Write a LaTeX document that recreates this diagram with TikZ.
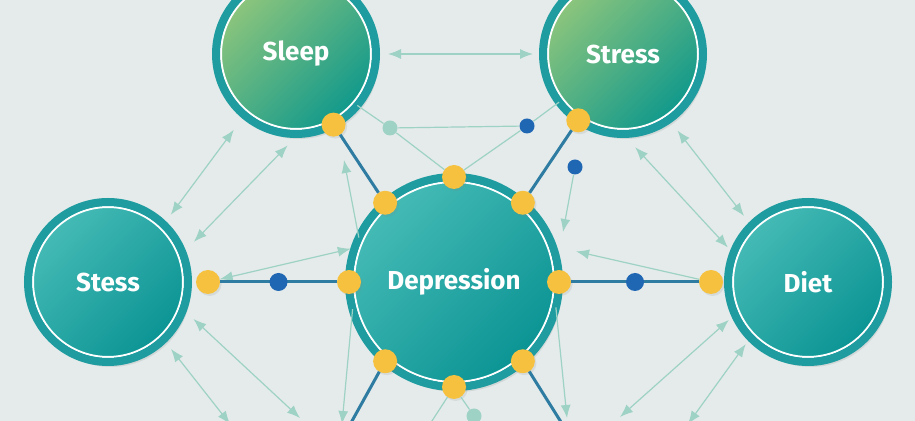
\documentclass[tikz,border=0pt]{standalone}
\usepackage{fontspec}
\setmainfont{Fira Sans}
\usetikzlibrary{arrows.meta,shadows,positioning}
\definecolor{bgc}{HTML}{E5EBEB}
\definecolor{ringc}{HTML}{1E9CA0}
\definecolor{tealhi}{HTML}{46BBB6}
\definecolor{tealdk}{HTML}{0A9393}
\definecolor{greenhi}{HTML}{8FC67C}
\definecolor{greendk}{HTML}{0E988C}
\definecolor{doty}{HTML}{F5C13E}
\definecolor{linkb}{HTML}{2E7CA2}
\definecolor{dotb}{HTML}{1F66B3}
\definecolor{palec}{HTML}{9DD2C4}
\begin{document}
\begin{tikzpicture}[x=0.5pt,y=-0.5pt,>={Latex[length=6.5pt,width=5pt]},
topic/.style={circle,draw=ringc,line width=4pt,minimum size=#1,inner sep=0pt,outer sep=0pt,
 text=white,font=\bfseries\fontsize{13}{15}\selectfont,
 drop shadow={shadow xshift=1.5pt,shadow yshift=-2.5pt,opacity=0.18},
 path picture={\draw[white,line width=1pt] (path picture bounding box.center) circle [radius={#1/2-2.5pt}];}},
tealtopic/.style={topic=#1,top color=tealhi,bottom color=tealdk,shading angle=45},
greentopic/.style={topic=#1,top color=greenhi,bottom color=greendk,shading angle=45},
ydot/.style={circle,fill=doty,minimum size=12pt,inner sep=0pt,outer sep=0pt,
 drop shadow={shadow xshift=0.8pt,shadow yshift=-1pt,opacity=0.15}},
bdot/.style={circle,fill=dotb,minimum size=#1,inner sep=0pt},
bdot/.default=9pt,
tdot/.style={circle,fill=palec,minimum size=7.5pt,inner sep=0pt},
link/.style={draw=linkb,line width=1.5pt},
pale/.style={draw=palec,line width=0.6pt}]
\useasboundingbox (0,0) rectangle (915,421);
\clip (0,0) rectangle (915,421);
\fill[bgc] (0,0) rectangle (915,421);

\node[greentopic=80pt] (sl) at (296,54) {Sleep};
\node[greentopic=80pt] (st) at (623,54) {Stress};
\node[tealtopic=80pt] (ss) at (108,282) {Stess};
\node[tealtopic=80pt] (di) at (808,282) {Diet};
\node[tealtopic=105pt] (dep) at (454,282) {Depression};

\node[ydot] (dt) at (dep.90) {};
\node[ydot] (dul) at (dep.131) {};
\node[ydot] (dur) at (dep.49) {};
\node[ydot] (dl) at (dep.180) {};
\node[ydot] (dr) at (dep.0) {};
\node[ydot] (dll) at (dep.-131) {};
\node[ydot] (dlr) at (dep.-49) {};
\node[ydot] (db) at (dep.-90) {};
\node[ydot] (sld) at (sl.-62) {};
\node[ydot] (std) at (st.-124) {};
\node[ydot,right=4pt of ss] (ssd) {};
\node[ydot,left=2.5pt of di] (did) {};

\node[tdot] (td) at (390,128) {};
\node[tdot] (tb) at (474,416) {};
\node[bdot=7.5pt] (bd1) at (527,126) {};
\node[bdot=7.5pt] (bd2) at (575,167) {};

\coordinate (b1) at (300,418);
\coordinate (b2) at (230,424);
\coordinate (b3) at (344,160);
\coordinate (b4) at (342,424);
\coordinate (b5) at (563,232);
\coordinate (b6) at (567,418);
\coordinate (b7) at (620,417);
\coordinate (b8) at (688,424);
\coordinate (b9) at (430,424);
\coordinate (ex1) at (347,430);
\coordinate (ex2) at (566,430);

\draw[pale,<->,shorten <=6pt,shorten >=5pt] (sl) -- (st);
\draw[pale,<->,shorten <=6pt,shorten >=9pt] (ss.46) -- (sl.-130);
\draw[pale,<->,shorten <=8pt,shorten >=8pt] (ss.21) -- (sl.-88);
\draw[pale,<->,shorten >=2pt] (ssd) -- (dep.161);
\draw[pale,<->,shorten <=7pt] (ss.-20) -- (b1);
\draw[pale,<->,shorten <=6pt] (ss.-46) -- (b2);
\draw[pale,->] (dep.155) -- (b3);
\draw[pale,->] (dep.195) -- (b4);
\draw[pale] (sl.-40) -- (td) -- (dt);
\draw[pale] (td) -- (bd1);
\draw[pale] (dt) -- (bd1) -- (st.-143);
\draw[pale,->] (bd2) -- (b5);
\draw[pale,->] (dep.-14) -- (b6);
\draw[pale,<-,shorten <=12pt] (dep.20) -- (did);
\draw[pale,<->,shorten <=9pt,shorten >=4pt] (st.-90) -- (di.159);
\draw[pale,<->,shorten <=7pt,shorten >=6pt] (st.-55) -- (di.135);
\draw[pale,<->,shorten <=4pt] (di.-156) -- (b7);
\draw[pale,<->,shorten <=4pt] (di.-136) -- (b8);
\draw[pale] (db) -- (b9);
\draw[pale] (db) -- (tb);

\draw[link] (sld) -- (dul);
\draw[link] (std) -- (dur);
\draw[link] (ssd) -- node[bdot] (bl) {} (dl);
\draw[link] (dr) -- node[bdot] (br) {} (did);
\draw[link] (dll) -- (ex1);
\draw[link] (dlr) -- (ex2);
\end{tikzpicture}
\end{document}
